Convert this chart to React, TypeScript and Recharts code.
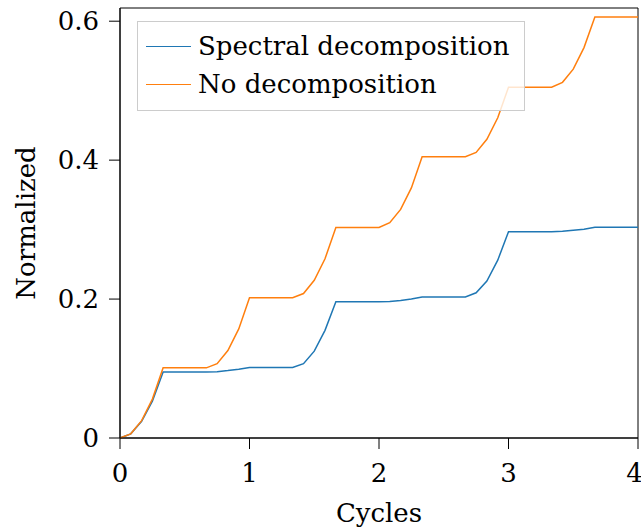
import React from 'react';
import { LineChart, Line, XAxis, YAxis, Legend, ReferenceArea } from 'recharts';

const cycles = [
  0, 0.083, 0.167, 0.25, 0.333, 0.417, 0.5, 0.583, 0.667, 0.75, 0.833, 0.917,
  1, 1.083, 1.167, 1.25, 1.333, 1.417, 1.5, 1.583, 1.667, 1.75, 1.833, 1.917,
  2, 2.083, 2.167, 2.25, 2.333, 2.417, 2.5, 2.583, 2.667, 2.75, 2.833, 2.917,
  3, 3.083, 3.167, 3.25, 3.333, 3.417, 3.5, 3.583, 3.667, 3.75, 3.833, 3.917, 4,
];

const spectral = [
  0, 0.006, 0.024, 0.053, 0.095, 0.095, 0.095, 0.095, 0.095, 0.0955, 0.097, 0.099,
  0.1015, 0.1015, 0.1015, 0.1015, 0.1015, 0.107, 0.125, 0.155, 0.196, 0.196, 0.196, 0.196,
  0.196, 0.1965, 0.198, 0.2, 0.203, 0.203, 0.203, 0.203, 0.203, 0.209, 0.226, 0.256,
  0.297, 0.297, 0.297, 0.297, 0.297, 0.2975, 0.299, 0.3005, 0.3035, 0.3035, 0.3035, 0.3035, 0.3035,
];

const noDecomp = [
  0, 0.006, 0.025, 0.056, 0.101, 0.101, 0.101, 0.101, 0.101, 0.107, 0.126, 0.157,
  0.202, 0.202, 0.202, 0.202, 0.202, 0.208, 0.227, 0.258, 0.303, 0.303, 0.303, 0.303,
  0.303, 0.31, 0.329, 0.36, 0.405, 0.405, 0.405, 0.405, 0.405, 0.411, 0.43, 0.461,
  0.505, 0.505, 0.505, 0.505, 0.505, 0.512, 0.531, 0.562, 0.606, 0.606, 0.606, 0.606, 0.606,
];

const xTicks = [0, 1, 2, 3, 4];
const yTicks = [0, 0.2, 0.4, 0.6];

const BLUE = '#1f77b4';
const ORANGE = '#ff7f0e';
const FONT = '"DejaVu Serif", serif';

const data = cycles.map((c, i) => ({ c, spectral: spectral[i], none: noDecomp[i] }));

const seriesLegend = [
  { name: 'Spectral decomposition', color: BLUE },
  { name: 'No decomposition', color: ORANGE },
];

function LegendBox() {
  return (
    <div
      style={{
        width: 386,
        height: 83,
        border: '1px solid #cccccc',
        background: 'rgba(255,255,255,0.8)',
        boxSizing: 'content-box',
        paddingTop: 5,
        fontFamily: FONT,
        fontSize: 26,
        color: '#000',
      }}
    >
      {seriesLegend.map((s) => (
        <div key={s.name} style={{ display: 'flex', alignItems: 'center', height: 38, marginLeft: 8 }}>
          <div style={{ width: 45, height: 0, borderTop: `1.5px solid ${s.color}`, marginRight: 7 }} />
          <span style={{ whiteSpace: 'nowrap', lineHeight: '38px' }}>{s.name}</span>
        </div>
      ))}
    </div>
  );
}

const yLabel = (props: any) => {
  const vb = props.viewBox;
  const x = vb.x + 26;
  const y = vb.y + vb.height / 2;
  return (
    <text
      x={x}
      y={y}
      textAnchor="middle"
      dominantBaseline="central"
      transform={`rotate(-90, ${x}, ${y})`}
      style={{ fontFamily: FONT, fontSize: 26, fill: '#000' }}
    >
      Normalized
    </text>
  );
};

export default function App() {
  const tickStyle = { fontFamily: FONT, fontSize: 26, fill: '#000' };
  return (
    <div style={{ position: 'absolute', left: 0, top: 0, background: '#fff' }}>
      <LineChart width={641} height={531} data={data} margin={{ top: 8, right: 3, bottom: 1, left: 0 }}>
        <XAxis
          dataKey="c"
          type="number"
          domain={[0, 4]}
          ticks={xTicks}
          tick={tickStyle}
          tickSize={11}
          tickMargin={15}
          height={92}
          stroke="#000"
          label={{ value: 'Cycles', position: 'insideBottom', offset: 8, style: { fontFamily: FONT, fontSize: 26, fill: '#000' } }}
        />
        <YAxis
          type="number"
          domain={[0, 0.619]}
          ticks={yTicks}
          tick={tickStyle}
          tickSize={11}
          tickMargin={10}
          width={120}
          stroke="#000"
          label={{ content: yLabel }}
        />
        <ReferenceArea x1={0} x2={4} y1={0} y2={0.619} fill="none" stroke="#000" strokeWidth={1} />
        <Line dataKey="spectral" name="Spectral decomposition" stroke={BLUE} strokeWidth={1.5} dot={false} isAnimationActive={false} />
        <Line dataKey="none" name="No decomposition" stroke={ORANGE} strokeWidth={1.5} dot={false} isAnimationActive={false} />
        <Legend
          layout="vertical"
          align="center"
          verticalAlign="middle"
          content={() => <LegendBox />}
          wrapperStyle={{ left: 137, top: 21, width: 388, height: 89 }}
        />
      </LineChart>
    </div>
  );
}
